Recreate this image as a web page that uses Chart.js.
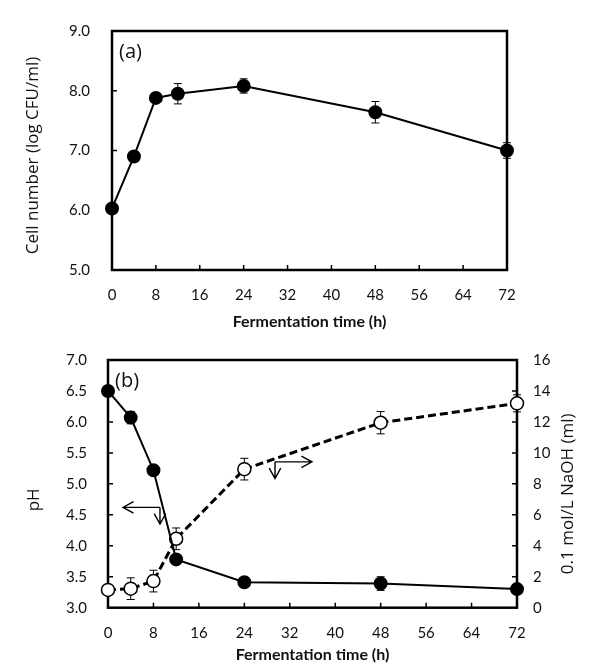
<!DOCTYPE html>
<html><head><meta charset="utf-8">
<script src="https://cdn.jsdelivr.net/npm/chart.js@4"></script>
<style>
html,body{margin:0;padding:0;background:#fff;}
#wrapA{position:absolute;left:0;top:0;width:602px;height:330px;}
#wrapB{position:absolute;left:0;top:330px;width:602px;height:341px;}
</style></head><body>
<div id="wrapA"><canvas id="chartA" width="602" height="330"></canvas></div>
<div id="wrapB"><canvas id="chartB" width="602" height="341"></canvas></div>
<script>
// ---- data ----
const hours = [0, 4, 8, 12, 24, 48, 72];
const cellCount = [6.03, 6.90, 7.88, 7.95, 8.08, 7.64, 7.00];
const cellErr   = [0.05, 0.08, 0.03, 0.17, 0.12, 0.18, 0.13];
const pHValues  = [6.50, 6.07, 5.22, 3.78, 3.41, 3.39, 3.30];
const pHErr     = [0.03, 0.10, 0.06, 0.05, 0.03, 0.11, 0.05];
const naohValues = [1.15, 1.23, 1.72, 4.45, 8.95, 11.95, 13.20];
const naohErr    = [0.10, 0.70, 0.70, 0.70, 0.70, 0.72, 0.55];

const xTitle = 'Fermentation time (h)';
const cellTitle = 'Cell number (log CFU/ml)';
const pHTitle = 'pH';
const naohTitle = '0.1 mol/L NaOH (ml)';

const FONT = 'Lato, "Open Sans", sans-serif';
const SIDEFONT = '"Open Sans", Lato, sans-serif';
const INK = '#111';

function pts(xs, ys){ return xs.map((x,i)=>({x:x, y:ys[i]})); }

// frame + inward ticks
const framePlugin = {
  id:'frame',
  beforeDatasetsDraw(chart){
    const {ctx, chartArea:a, scales} = chart;
    ctx.save();
    ctx.strokeStyle = '#000';
    ctx.lineWidth = 1.5;
    const tl = 5;
    ctx.beginPath();
    scales.x.ticks.forEach(t=>{
      const px = scales.x.getPixelForValue(t.value);
      if (px > a.left+1 && px < a.right-1){ ctx.moveTo(px, a.bottom); ctx.lineTo(px, a.bottom-tl); }
    });
    scales.y.ticks.forEach(t=>{
      const py = scales.y.getPixelForValue(t.value);
      if (py > a.top+1 && py < a.bottom-1){ ctx.moveTo(a.left, py); ctx.lineTo(a.left+tl, py); }
    });
    if (scales.y2){
      scales.y2.ticks.forEach(t=>{
        const py = scales.y2.getPixelForValue(t.value);
        if (py > a.top+1 && py < a.bottom-1){ ctx.moveTo(a.right, py); ctx.lineTo(a.right-tl, py); }
      });
    }
    ctx.stroke();
    ctx.lineWidth = 2.5;
    ctx.strokeRect(a.left, a.top, a.right-a.left, a.bottom-a.top);
    ctx.restore();
  }
};

// error bars
const errorBarPlugin = {
  id:'errorBars',
  beforeDatasetsDraw(chart){
    const ctx = chart.ctx;
    ctx.save();
    ctx.strokeStyle = '#000';
    ctx.lineWidth = 1;
    chart.data.datasets.forEach((ds,i)=>{
      if (!ds.errors) return;
      const meta = chart.getDatasetMeta(i);
      const xs = chart.scales[meta.xAxisID], ys = chart.scales[meta.yAxisID];
      ds.data.forEach((p,j)=>{
        const e = ds.errors[j]; if (!e) return;
        const px = xs.getPixelForValue(p.x);
        const top = ys.getPixelForValue(p.y + e), bot = ys.getPixelForValue(p.y - e);
        ctx.beginPath();
        ctx.moveTo(px, top); ctx.lineTo(px, bot);
        ctx.moveTo(px-4, top); ctx.lineTo(px+4, top);
        ctx.moveTo(px-4, bot); ctx.lineTo(px+4, bot);
        ctx.stroke();
      });
    });
    ctx.restore();
  }
};

// annotations: arrows, panel label, side titles
const annotPlugin = {
  id:'annot',
  afterDraw(chart, args, opts){
    const {ctx, chartArea:a, scales} = chart;
    ctx.save();
    ctx.fillStyle = INK;
    if (opts.label){
      ctx.font = '20px ' + SIDEFONT;
      ctx.textAlign = 'left'; ctx.textBaseline = 'middle';
      ctx.fillText(opts.label, a.left + 7, a.top + 21);
    }
    (opts.arrows || []).forEach(ar=>{
      const ys = scales[ar.axis], xs = scales.x;
      const p = ar.path.map(q=>[xs.getPixelForValue(q[0]), ys.getPixelForValue(q[1])]);
      ctx.strokeStyle = '#000'; ctx.lineWidth = 1.4;
      ctx.beginPath();
      ctx.moveTo(p[0][0], p[0][1]);
      for (let k=1;k<p.length;k++) ctx.lineTo(p[k][0], p[k][1]);
      const [x1,y1] = p[p.length-2], [x2,y2] = p[p.length-1];
      const ang = Math.atan2(y2-y1, x2-x1), L = 12, W = 0.5;
      ctx.moveTo(x2 - L*Math.cos(ang-W), y2 - L*Math.sin(ang-W));
      ctx.lineTo(x2, y2);
      ctx.lineTo(x2 - L*Math.cos(ang+W), y2 - L*Math.sin(ang+W));
      ctx.stroke();
    });
    (opts.sideTitles || []).forEach(t=>{
      ctx.save();
      ctx.font = '17px ' + SIDEFONT;
      ctx.textAlign = 'center'; ctx.textBaseline = 'middle';
      ctx.translate(t.x, (a.top + a.bottom)/2 + t.dy);
      ctx.rotate(-Math.PI/2);
      ctx.fillText(t.text, 0, 0);
      ctx.restore();
    });
    ctx.restore();
  }
};

const tickFont = {family: FONT, size: 15};
const xTitleFont = {family: FONT, size: 16, weight:'bold', lineHeight:1};

// ---- panel (a) ----
new Chart(document.getElementById('chartA'), {
  type:'line',
  data:{ datasets:[{
    data: pts(hours, cellCount), errors: cellErr,
    borderColor:'#000', borderWidth:2, backgroundColor:'#000',
    pointRadius:6, pointHoverRadius:6, pointBackgroundColor:'#000', pointBorderColor:'#000',
    tension:0, clip:false
  }]},
  options:{
    responsive:false, animation:false, events:[],
    layout:{padding:{left:0, top:25, right:95, bottom:0}},
    plugins:{legend:{display:false}, tooltip:{enabled:false},
      annot:{label:'(a)', sideTitles:[{text:cellTitle, x:33, dy:5}]}},
    scales:{
      x:{type:'linear', min:0, max:72,
        afterFit(s){ s.height = 60; },
        grid:{display:false, drawTicks:false}, border:{display:false},
        ticks:{stepSize:8, padding:16, color:INK, font:tickFont},
        title:{display:true, text:xTitle, color:INK, font:xTitleFont, padding:{top:0, bottom:0}}
      },
      y:{min:5, max:9,
        afterFit(s){ s.width = 112; },
        grid:{display:false, drawTicks:false}, border:{display:false},
        ticks:{stepSize:1, padding:22, color:INK, font:tickFont, callback:v=>Number(v).toFixed(1)}
      }
    }
  },
  plugins:[framePlugin, errorBarPlugin, annotPlugin]
});

// ---- panel (b) ----
new Chart(document.getElementById('chartB'), {
  type:'line',
  data:{ datasets:[
    { data: pts(hours, pHValues), errors: pHErr, yAxisID:'y',
      borderColor:'#000', borderWidth:2, backgroundColor:'#000',
      pointRadius:6, pointHoverRadius:6, pointBackgroundColor:'#000', pointBorderColor:'#000',
      tension:0, clip:false },
    { data: pts(hours, naohValues), errors: naohErr, yAxisID:'y2',
      borderColor:'#000', borderWidth:3, borderDash:[8,4], backgroundColor:'#fff',
      pointRadius:6.5, pointHoverRadius:6.5, pointBackgroundColor:'#fff', pointBorderColor:'#000', pointBorderWidth:1.5,
      tension:0, clip:false }
  ]},
  options:{
    responsive:false, animation:false, events:[],
    layout:{padding:{left:0, top:25, right:0, bottom:0}},
    plugins:{legend:{display:false}, tooltip:{enabled:false},
      annot:{
        label:'(b)',
        arrows:[
          {axis:'y', path:[[9.15,4.62],[2.64,4.62]]},
          {axis:'y', path:[[9.15,4.62],[9.15,4.35]]},
          {axis:'y2', path:[[29.4,9.42],[35.9,9.42]]},
          {axis:'y2', path:[[29.4,9.42],[29.4,8.34]]}
        ],
        sideTitles:[
          {text:pHTitle, x:34, dy:16},
          {text:naohTitle, x:568, dy:10}
        ]
      }},
    scales:{
      x:{type:'linear', min:0, max:72,
        afterFit(s){ s.height = 63.3; },
        grid:{display:false, drawTicks:false}, border:{display:false},
        ticks:{stepSize:8, padding:16, color:INK, font:tickFont},
        title:{display:true, text:xTitle, color:INK, font:xTitleFont, padding:{top:0, bottom:8}}
      },
      y:{position:'left', min:3, max:7,
        afterFit(s){ s.width = 108; },
        grid:{display:false, drawTicks:false}, border:{display:false},
        ticks:{stepSize:0.5, padding:21, color:INK, font:tickFont, callback:v=>Number(v).toFixed(1)}
      },
      y2:{position:'right', min:0, max:16,
        afterFit(s){ s.width = 85; },
        grid:{display:false, drawTicks:false}, border:{display:false},
        ticks:{stepSize:2, padding:16, color:INK, font:tickFont}
      }
    }
  },
  plugins:[framePlugin, errorBarPlugin, annotPlugin]
});
</script>
</body></html>
